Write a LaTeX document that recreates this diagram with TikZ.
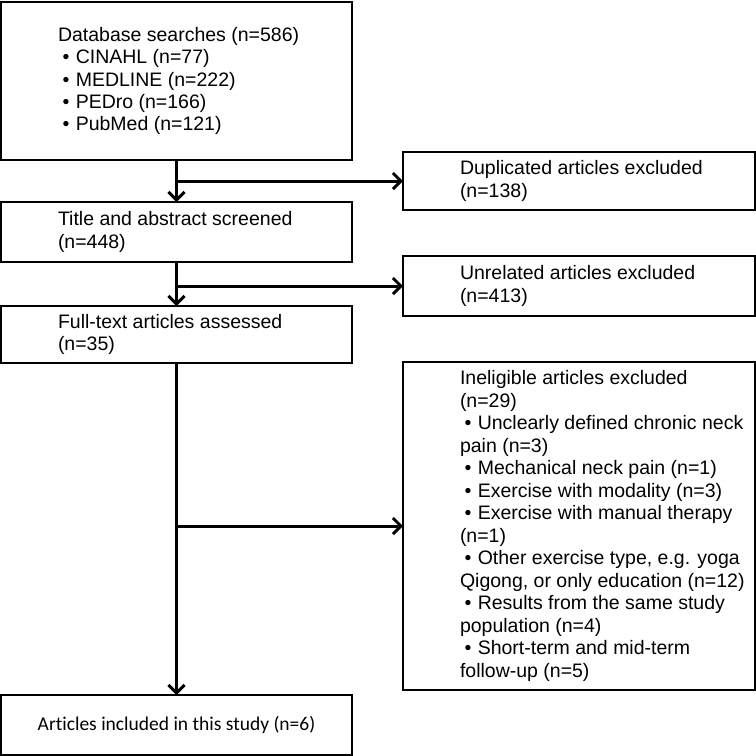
\documentclass[tikz,border=0pt]{standalone}
\usepackage{fontspec}
\setmainfont{Liberation Sans}
\newfontfamily\calfont[Ligatures=NoCommon]{Carlito}
\usetikzlibrary{arrows.meta}
\newcommand{\bul}{\makebox[8.9pt][l]{\hspace*{2.3pt}•}}
\begin{document}
\begin{tikzpicture}[x=0.5pt,y=-0.5pt,
  box/.style={draw=black,line width=1pt,outer sep=0pt,inner sep=0pt,fill=white},
  txt/.style={inner sep=0pt,outer sep=0pt,align=left,anchor=west,font=\fontsize{9.75}{11.1}\selectfont},
  conn/.style={line width=1.5pt,-{Straight Barb[length=4pt,width=8pt,line width=1.5pt]}}]
\useasboundingbox (0,0) rectangle (756,756);
% left column boxes
\node[box,minimum width=175.5pt,minimum height=79pt] (b1) at (176.5,81) {};
\node[box,minimum width=175.5pt,minimum height=30pt] (b3) at (176.5,232) {};
\node[box,minimum width=175.5pt,minimum height=28.5pt] (b5) at (176.5,334.5) {};
\node[box,minimum width=175.5pt,minimum height=30pt] (b7) at (176.5,725)
  {\calfont\fontsize{9.75}{11}\selectfont Articles included in this study (n=6)};
% right column boxes
\node[box,minimum width=176pt,minimum height=29pt] (dup) at (579,181) {};
\node[box,minimum width=176pt,minimum height=30pt] (unr) at (579,286) {};
\node[box,minimum width=176pt,minimum height=164pt] (ine) at (579,526) {};
% texts
\node[txt] (t1) at ([xshift=28.5pt]b1.west) {Database searches (n=586)\\
\bul CINAHL (n=77)\\
\bul MEDLINE (n=222)\\
\bul PEDro (n=166)\\
\bul PubMed (n=121)};
\node[txt] (t3) at ([xshift=28.5pt]b3.west) {Title and abstract screened\\(n=448)};
\node[txt] (t5) at ([xshift=28.5pt]b5.west) {Full-text articles assessed\\(n=35)};
\node[txt] (tdup) at ([xshift=28.5pt]dup.west) {Duplicated articles excluded\\(n=138)};
\node[txt] (tunr) at ([xshift=28.5pt]unr.west) {Unrelated articles excluded\\(n=413)};
\node[txt,font=\fontsize{9.75}{11.25}\selectfont] (tine) at ([xshift=28.5pt]ine.west) {Ineligible articles excluded\\
(n=29)\\
\bul Unclearly defined chronic neck\\
pain (n=3)\\
\bul Mechanical neck pain (n=1)\\
\bul Exercise with modality (n=3)\\
\bul Exercise with manual therapy\\
(n=1)\\
\bul Other exercise type, e.g. yoga\\
Qigong, or only education (n=12)\\
\bul Results from the same study\\
population (n=4)\\
\bul Short-term and mid-term\\
follow-up (n=5)};
% connectors
\draw[conn] (b1.south) -- (b3.north);
\coordinate (j1) at (b1.south |- dup.west);
\draw[conn] (j1) -- (dup.west);
\draw[conn] (b3.south) -- (b5.north);
\coordinate (j2) at (b3.south |- unr.west);
\draw[conn] (j2) -- (unr.west);
\draw[conn] (b5.south) -- (b7.north);
\coordinate (j3) at (b5.south |- ine.west);
\draw[conn] (j3) -- (ine.west);
\end{tikzpicture}
\end{document}
